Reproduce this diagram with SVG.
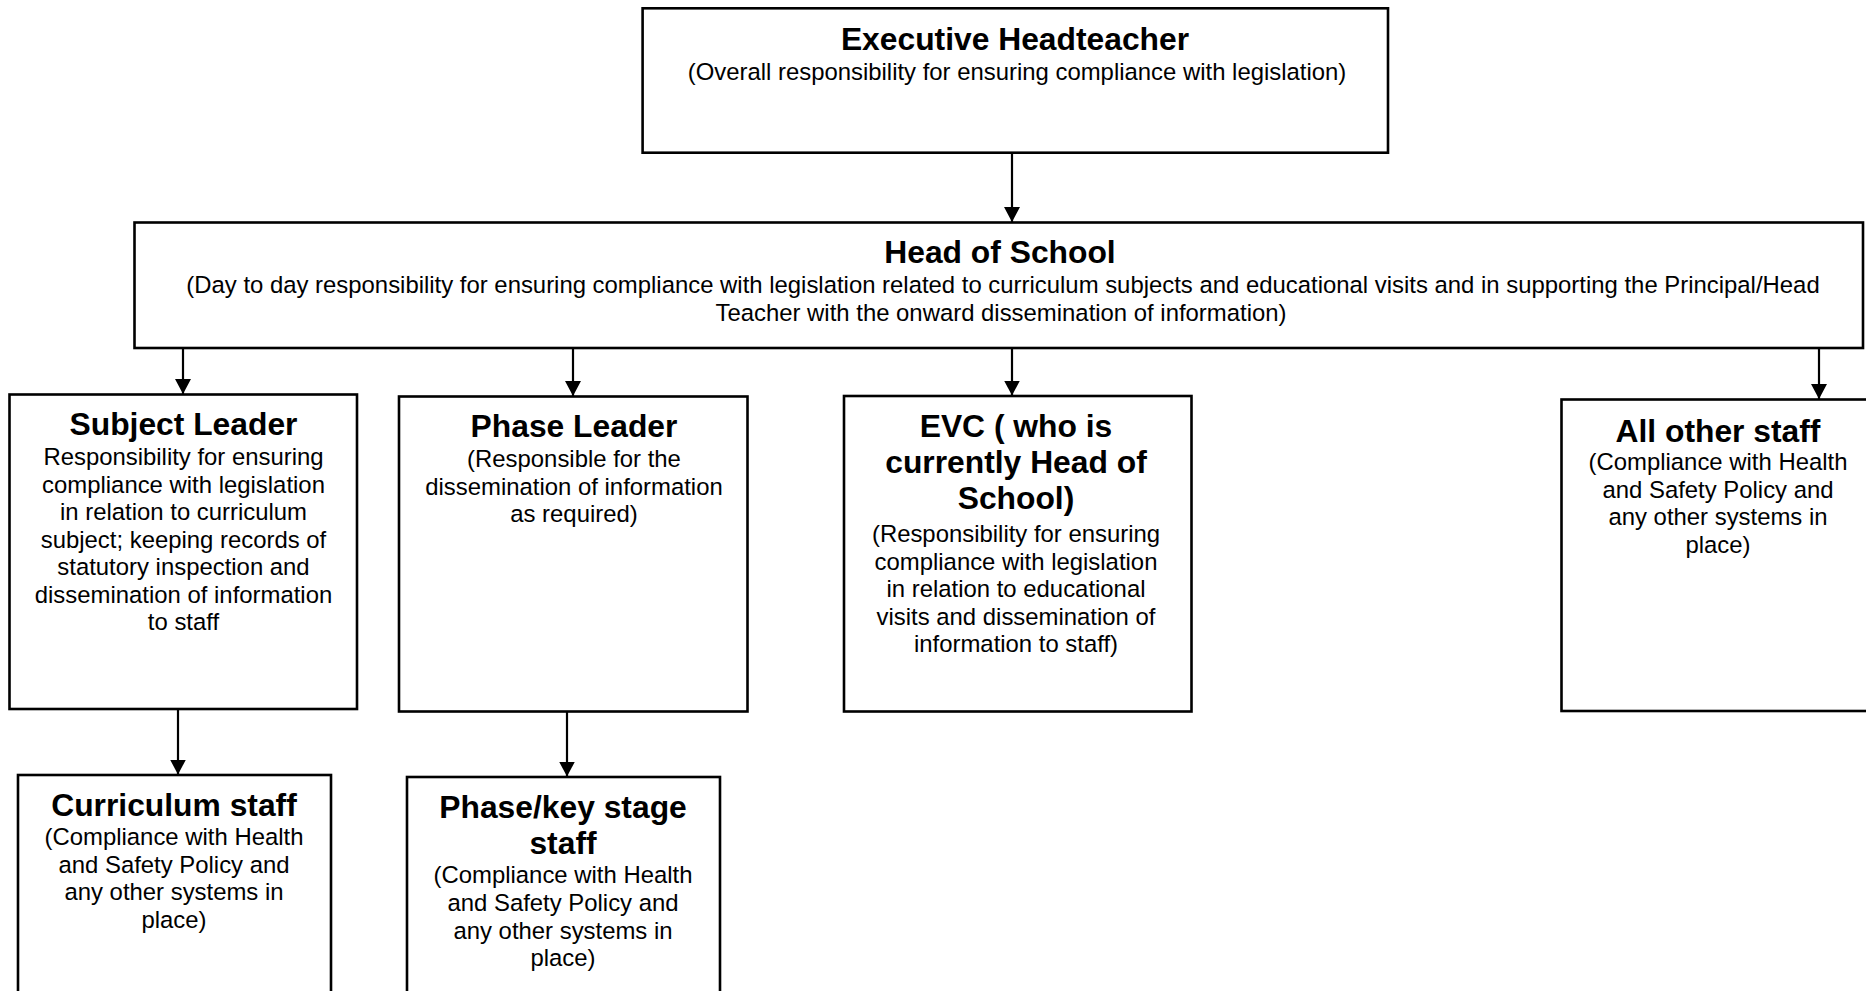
<svg xmlns="http://www.w3.org/2000/svg" width="1866" height="991" viewBox="0 0 1866 991">
<style>
.box{fill:#fff;stroke:#000;stroke-width:2.6}
.t{font-family:"Liberation Sans",Arial,sans-serif;font-weight:bold;font-size:31.8px;text-anchor:middle;fill:#000}
.b{font-family:"Liberation Sans",Arial,sans-serif;font-size:23.9px;text-anchor:middle;fill:#000}
.c{stroke:#000;stroke-width:2.2;fill:none;marker-end:url(#ah)}
</style>
<defs>
<marker id="ah" markerUnits="userSpaceOnUse" markerWidth="18" markerHeight="16" refX="15" refY="8" orient="auto">
<path d="M0,0 L15,8 L0,16 Z" fill="#000"/>
</marker>
</defs>
<rect width="1866" height="991" fill="#fff"/>
<g id="connectors">
<line class="c" x1="1012" y1="152.7" x2="1012" y2="222"/>
<line class="c" x1="183" y1="348" x2="183" y2="394"/>
<line class="c" x1="573" y1="348" x2="573" y2="396"/>
<line class="c" x1="1012" y1="348" x2="1012" y2="395.5"/>
<line class="c" x1="1819" y1="345" x2="1819" y2="399"/>
<line class="c" x1="178" y1="705" x2="178" y2="774.5"/>
<line class="c" x1="567" y1="707" x2="567" y2="776.5"/>
</g>
<g id="executive-headteacher">
<rect class="box" x="642.6" y="8.3" width="745.4" height="144.4"/>
<text class="t" x="1015" y="49.5">Executive Headteacher</text>
<text class="b" x="1017" y="79.5">(Overall responsibility for ensuring compliance with legislation)</text>
</g>
<g id="head-of-school">
<rect class="box" x="134.5" y="222.5" width="1728.5" height="125.5"/>
<text class="t" x="1000" y="263">Head of School</text>
<text class="b" x="1003" y="293">(Day to day responsibility for ensuring compliance with legislation related to curriculum subjects and educational visits and in supporting the Principal/Head</text>
<text class="b" x="1001" y="320.5">Teacher with the onward dissemination of information)</text>
</g>
<g id="subject-leader">
<rect class="box" x="9.5" y="394.5" width="347.5" height="314.5"/>
<text class="t" x="183.5" y="435">Subject Leader</text>
<text class="b" x="183.5" y="465">Responsibility for ensuring</text>
<text class="b" x="183.5" y="492.5">compliance with legislation</text>
<text class="b" x="183.5" y="520">in relation to curriculum</text>
<text class="b" x="183.5" y="547.5">subject; keeping records of</text>
<text class="b" x="183.5" y="575">statutory inspection and</text>
<text class="b" x="183.5" y="602.5">dissemination of information</text>
<text class="b" x="183.5" y="630">to staff</text>
</g>
<g id="phase-leader">
<rect class="box" x="399" y="396.5" width="348.5" height="315"/>
<text class="t" x="574" y="437">Phase Leader</text>
<text class="b" x="574" y="467">(Responsible for the</text>
<text class="b" x="574" y="494.5">dissemination of information</text>
<text class="b" x="574" y="522">as required)</text>
</g>
<g id="evc">
<rect class="box" x="844" y="396" width="347.5" height="315.5"/>
<text class="t" x="1016" y="437">EVC ( who is</text>
<text class="t" x="1016" y="473">currently Head of</text>
<text class="t" x="1016" y="508.5">School)</text>
<text class="b" x="1016" y="542">(Responsibility for ensuring</text>
<text class="b" x="1016" y="569.5">compliance with legislation</text>
<text class="b" x="1016" y="597">in relation to educational</text>
<text class="b" x="1016" y="624.5">visits and dissemination of</text>
<text class="b" x="1016" y="652">information to staff)</text>
</g>
<g id="all-other-staff">
<rect class="box" x="1561.5" y="399.5" width="313.5" height="311.5"/>
<text class="t" x="1718" y="442">All other staff</text>
<text class="b" x="1718" y="470">(Compliance with Health</text>
<text class="b" x="1718" y="497.5">and Safety Policy and</text>
<text class="b" x="1718" y="525">any other systems in</text>
<text class="b" x="1718" y="552.5">place)</text>
</g>
<g id="curriculum-staff">
<rect class="box" x="18" y="775" width="313" height="230"/>
<text class="t" x="174" y="816">Curriculum staff</text>
<text class="b" x="174" y="845">(Compliance with Health</text>
<text class="b" x="174" y="872.5">and Safety Policy and</text>
<text class="b" x="174" y="900">any other systems in</text>
<text class="b" x="174" y="927.5">place)</text>
</g>
<g id="phase-key-stage-staff">
<rect class="box" x="407" y="777" width="313" height="230"/>
<text class="t" x="563" y="818">Phase/key stage</text>
<text class="t" x="563" y="854">staff</text>
<text class="b" x="563" y="883">(Compliance with Health</text>
<text class="b" x="563" y="911">and Safety Policy and</text>
<text class="b" x="563" y="938.5">any other systems in</text>
<text class="b" x="563" y="966">place)</text>
</g>
</svg>
